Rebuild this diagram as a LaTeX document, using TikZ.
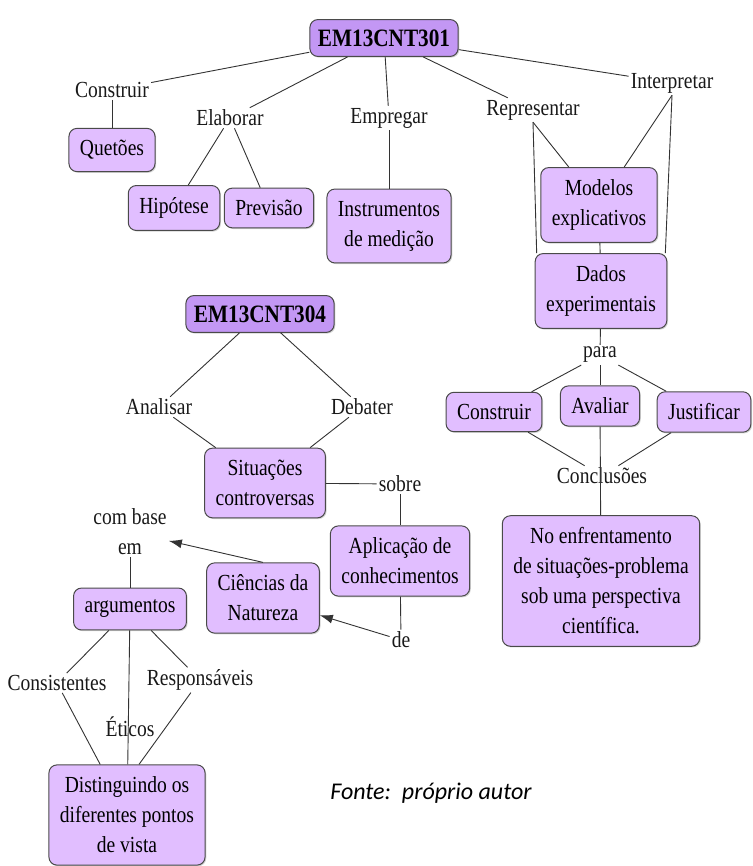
\documentclass[tikz,border=0pt]{standalone}
\usepackage{fontspec}
\setmainfont{Liberation Serif}[FakeStretch=0.85]
\newfontfamily\fontefam{Carlito}
\usetikzlibrary{arrows.meta,shadows}

\definecolor{lilas}{HTML}{E1BEFF}
\definecolor{lilasescuro}{HTML}{C397F4}
\definecolor{borda}{HTML}{4A4A4A}

\tikzset{
    conceito/.style={draw=borda, fill=lilas, rounded corners=8pt, align=center,
        inner xsep=11pt, inner ysep=12pt, line width=1pt,
        drop shadow={shadow xshift=1.2pt, shadow yshift=-1.2pt, opacity=0.35},
        font=\fontsize{23}{30}\selectfont},
    raiz/.style={conceito, fill=lilasescuro, inner xsep=8pt, inner ysep=10pt,
        font=\fontsize{25}{30}\selectfont\bfseries},
    ligacao/.style={align=center, inner sep=2pt, text=black!90,
        font=\fontsize{23}{30}\selectfont},
    liga/.style={draw=black!80, line width=0.9pt},
    seta/.style={liga, -{Latex[length=13pt,width=9pt]}},
}

\begin{document}
\begin{tikzpicture}[x=1pt, y=-1pt]
    \useasboundingbox (0,0) rectangle (752,866);

    % Competencia EM13CNT301
    \node [raiz] (em301) at (384,38) {EM13CNT301};
    \node [ligacao] (construir) at (112,90) {Construir};
    \node [conceito] (quetoes) at (112,150) {Quetões};
    \node [ligacao] (elaborar) at (230,118) {Elaborar};
    \node [conceito] (hipotese) at (174,208) {Hipótese};
    \node [conceito] (previsao) at (269,208) {Previsão};
    \node [ligacao] (empregar) at (389,118) {Empregar};
    \node [conceito] (instrumentos) at (389,226) {Instrumentos\\de medição};
    \node [ligacao] (representar) at (533,110) {Representar};
    \node [ligacao] (interpretar) at (672,83) {Interpretar};
    \node [conceito] (modelos) at (599,205) {Modelos\\explicativos};
    \node [conceito] (dados) at (601,291) {Dados\\experimentais};
    \node [ligacao] (para) at (600,355) {para};
    \node [conceito] (construirb) at (494,412) {Construir};
    \node [conceito] (avaliar) at (600,406) {Avaliar};
    \node [conceito] (justificar) at (704,412) {Justificar};
    \node [ligacao] (conclusoes) at (602,476) {Conclusões};
    \node [conceito] (enfrentamento) at (601,581)
        {No enfrentamento\\de situações-problema\\sob uma perspectiva\\científica.};

    \draw [liga] (em301) -- (construir);
    \draw [liga] (construir) -- (quetoes);
    \draw [liga] (em301) -- (elaborar);
    \draw [liga] (elaborar) -- (hipotese);
    \draw [liga] (elaborar) -- (previsao);
    \draw [liga] (em301) -- (empregar);
    \draw [liga] (empregar) -- (instrumentos);
    \draw [liga] (em301) -- (representar);
    \draw [liga] (em301) -- (interpretar);
    \draw [liga] (representar.south) -- (modelos);
    \draw [liga] (representar.south) -- ([xshift=2pt]dados.north west);
    \draw [liga] (interpretar.south) -- (modelos);
    \draw [liga] (interpretar.south) -- ([xshift=-2pt]dados.north east);
    \draw [liga] (modelos) -- (dados);
    \draw [liga] (dados) -- (para);
    \draw [liga] (para) -- (construirb);
    \draw [liga] (para) -- (avaliar);
    \draw [liga] (para) -- (justificar);
    \draw [liga] (construirb) -- (conclusoes);
    \draw [liga] (justificar) -- (conclusoes);
    \draw [liga] (avaliar) -- (enfrentamento);

    % Competencia EM13CNT304
    \node [raiz] (em304) at (260,314) {EM13CNT304};
    \node [ligacao] (analisar) at (159,407) {Analisar};
    \node [ligacao] (debater) at (362,407) {Debater};
    \node [conceito] (situacoes) at (265,483) {Situações\\controversas};
    \node [ligacao] (sobre) at (400,484) {sobre};
    \node [conceito] (aplicacao) at (400,561) {Aplicação de\\conhecimentos};
    \node [ligacao] (de) at (401,640) {de};
    \node [conceito] (ciencias) at (263,598) {Ciências da\\Natureza};
    \node [ligacao] (combase) at (130,532) {com base\\em};
    \node [conceito] (argumentos) at (130,609) {argumentos};
    \node [ligacao] (consistentes) at (57,683) {Consistentes};
    \node [ligacao] (responsaveis) at (200,680) {Responsáveis};
    \node [ligacao] (eticos) at (130,727) {Éticos};
    \node [conceito] (distinguindo) at (127,815)
        {Distinguindo os\\diferentes pontos\\de vista};

    \draw [liga] (em304) -- (analisar);
    \draw [liga] (em304) -- (debater);
    \draw [liga] (analisar) -- (situacoes);
    \draw [liga] (debater) -- (situacoes);
    \draw [liga] (situacoes) -- (sobre);
    \draw [liga] (sobre) -- (aplicacao);
    \draw [liga] (aplicacao) -- (de);
    \draw [seta] (de) -- (ciencias);
    \draw [seta] (ciencias.north) -- (combase);
    \draw [liga] (combase) -- (argumentos);
    \draw [liga] (argumentos) -- (consistentes);
    \draw [liga] (argumentos) -- (responsaveis);
    \draw [liga] (argumentos) -- (distinguindo);
    \draw [liga] (consistentes) -- (distinguindo);
    \draw [liga] (responsaveis) -- ([xshift=12pt]distinguindo.north);

    % Fonte
    \node [font=\fontefam\itshape\fontsize{24}{28}\selectfont] (fonte) at (431,793)
        {Fonte:\ \ próprio autor};
\end{tikzpicture}
\end{document}
